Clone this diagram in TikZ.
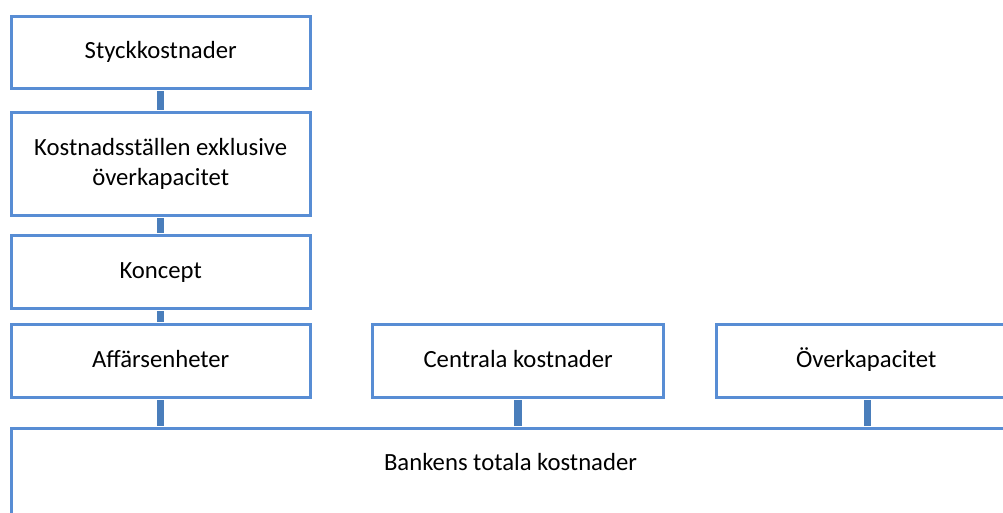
\documentclass[tikz,border=0pt]{standalone}
\usepackage{fontspec}
\setmainfont{Carlito}
\definecolor{boxline}{RGB}{88,141,212}
\definecolor{linkbar}{RGB}{74,126,187}
\tikzset{
  x=1pt, y=-1pt,
  costbox/.style={draw=boxline, line width=2.8pt, fill=white, rectangle,
    anchor=north west, inner sep=0pt, align=center,
    font=\fontsize{24.7}{29.5}\selectfont},
  oneline/.style={text height=17pt, text depth=4pt},
  linkbarline/.style={draw=linkbar, line width=7.5pt},
}
\begin{document}
\begin{tikzpicture}
\useasboundingbox (0,0) rectangle (1003,512);
\clip (0,0) rectangle (1003,512);
\fill[white] (0,0) rectangle (1003,512);

% left column: chain of cost levels
\node[costbox, oneline, minimum width=299pt, minimum height=71.5pt] (styck) at (9.8,15.3) {Styckkostnader};
\node[costbox, minimum width=299pt, minimum height=102.5pt] (kost) at (9.8,111.3) {Kostnadsställen exklusive\\överkapacitet};
\node[costbox, oneline, minimum width=299pt, minimum height=72.5pt] (koncept) at (9.8,234.3) {Koncept};
\node[costbox, oneline, minimum width=299pt, minimum height=72.5pt] (aff) at (9.8,323.3) {Affärsenheter};

% second row
\node[costbox, oneline, minimum width=291pt, minimum height=72.5pt] (central) at (371.3,323.3) {Centrala kostnader};
\node[costbox, oneline, minimum width=299pt, minimum height=72.5pt] (over) at (715.3,323.3) {Överkapacitet};

% total costs
\node[costbox, minimum width=1002pt, minimum height=170pt] (bank) at (9.8,427.3) {};
\node[font=\fontsize{24.7}{29.5}\selectfont, inner sep=0pt, anchor=base] (banktext) at (510.5,470) {Bankens totala kostnader};

% connectors
\draw[linkbarline] ([yshift=-1.4pt]styck.south) -- ([yshift=1.4pt]kost.north);
\draw[linkbarline] ([yshift=-1.4pt]kost.south) -- ([yshift=1.4pt]koncept.north);
\draw[linkbarline] ([yshift=-1.4pt]koncept.south) -- ([yshift=1.4pt]aff.north);
\draw[linkbarline] ([yshift=-1.4pt]aff.south) -- ([yshift=1.4pt]aff.south |- bank.north);
\draw[linkbarline] ([yshift=-1.4pt]central.south) -- ([yshift=1.4pt]central.south |- bank.north);
\draw[linkbarline] ([xshift=1.5pt,yshift=-1.4pt]over.south) -- ([xshift=1.5pt,yshift=1.4pt]over.south |- bank.north);
\end{tikzpicture}
\end{document}
